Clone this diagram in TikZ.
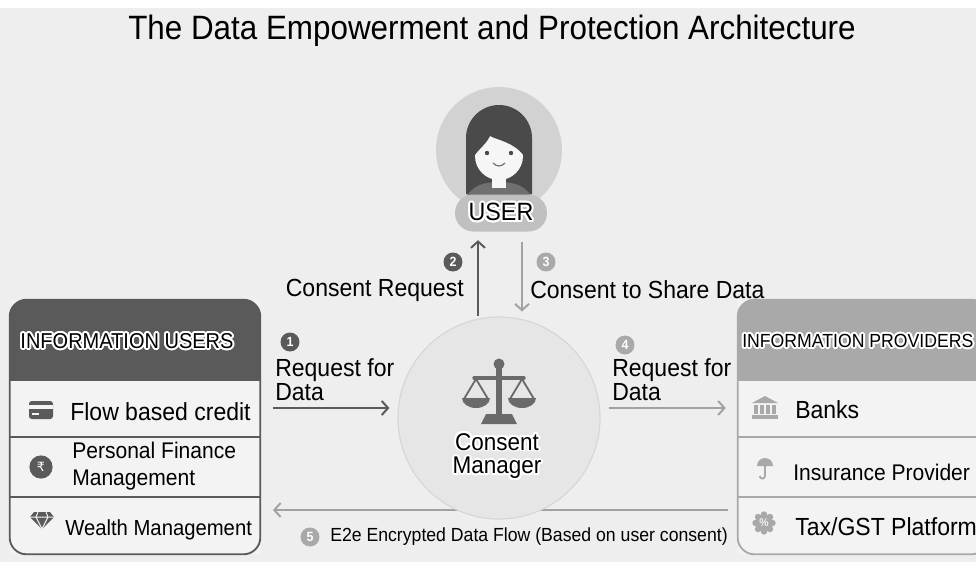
\documentclass[tikz,border=0pt]{standalone}
\usepackage{fontspec}
\setmainfont{Liberation Sans}[FakeStretch=0.93]
\newfontfamily\rupeefont{DejaVu Sans}
\usepackage{contour}
\contourlength{1.4pt}
\usetikzlibrary{arrows.meta}

\definecolor{paper}{HTML}{EEEEEE}
\definecolor{rowfill}{HTML}{F3F3F3}
\definecolor{darkgrey}{HTML}{5A5A5A}
\definecolor{lightgrey}{HTML}{A9A9A9}
\definecolor{arrowlight}{HTML}{A2A2A2}
\definecolor{cmfill}{HTML}{E6E6E6}
\definecolor{cmline}{HTML}{D6D6D6}
\definecolor{usercircle}{HTML}{D2D2D2}
\definecolor{pillgrey}{HTML}{C0C0C0}
\definecolor{hair}{HTML}{4A4A4A}
\definecolor{shirt}{HTML}{707070}
\definecolor{skin}{HTML}{F6F6F6}
\definecolor{scalegrey}{HTML}{6A6A6A}

\begin{document}
\begin{tikzpicture}[x=0.025cm, y=-0.025cm,
	txt/.style={inner sep=0pt, align=left, font=\fontsize{17.6}{17.1}\selectfont},
	txtmid/.style={txt, font=\fontsize{16.1}{19.2}\selectfont},
	head/.style={inner sep=0pt, font=\fontsize{15.3}{17}\selectfont},
	badge/.style={circle, fill=#1, text=white, inner sep=0pt, minimum size=13.5pt, font=\fontsize{9.5}{9.5}\selectfont\bfseries},
	flow/.style={draw=#1, line width=1.4pt, -{Straight Barb[length=4.5pt, width=10pt]}},
	panel/.style={rectangle, fill=rowfill, minimum width=6.25cm, minimum height=6.35cm, inner sep=0pt}]
	% backdrop
	\useasboundingbox (0,0) rectangle (976,562);
	\clip (0,0) rectangle (976,562);
	\fill[white] (0,0) rectangle (976,8);
	\fill[paper] (0,8) rectangle (976,562);

	\node[font=\fontsize{24}{28}\selectfont] (T) at (492,31) {The Data Empowerment and Protection Architecture};

	% side panels with header and three rows
	\coordinate (hb) at (0,380);
	\coordinate (r1) at (0,437);
	\coordinate (r2) at (0,497);
	\node[panel] (IU) at (135,427) {};
	\node[panel] (IP) at (863,427) {};
	\foreach \p/\c in {IU/darkgrey, IP/lightgrey} {
		\begin{scope}
			\clip[rounded corners=12pt] (\p.north west) rectangle (\p.south east);
			\fill[\c] (\p.north west) rectangle (\p.east |- hb);
		\end{scope}
		\draw[\c, line width=1pt] (\p.west |- hb) -- (\p.east |- hb)
			(\p.west |- r1) -- (\p.east |- r1)
			(\p.west |- r2) -- (\p.east |- r2);
		\draw[\c, line width=1.3pt, rounded corners=12pt] (\p.north west) rectangle (\p.south east);
	}
	\node[head] (IUh) at (127,342) {\contour{white}{INFORMATION USERS}};
	\node[head, font=\fontsize{13.5}{15}\selectfont, anchor=west] (IPh) at (742,342) {\contour{white}{INFORMATION PROVIDERS}};

	% left rows
	\fill[darkgrey, rounded corners=2pt] (29,401) rectangle (53,419);
	\fill[rowfill] (29,405) rectangle (53,408.5);
	\fill[rowfill] (32,413) rectangle (39,415);
	\node[txt, anchor=west] (FBC) at (70,412) {Flow based credit};
	\node[circle, fill=darkgrey, minimum size=16.5pt, inner sep=0pt, text=white, font=\rupeefont\fontsize{9}{9}\selectfont] (coin) at (41,467) {₹};
	\node[txtmid, anchor=west] (PFM) at (72,466) {Personal Finance\\Management};
	\fill[darkgrey] (34,512) -- (50,512) -- (54,517) -- (42,529) -- (30,517) -- cycle;
	\draw[rowfill, line width=0.7pt] (30,517) -- (54,517) (38,512) -- (36,517) -- (42,529) -- (48,517) -- (46,512);
	\node[txt, font=\fontsize{15.5}{17}\selectfont, anchor=west] (WM) at (65,530) {Wealth Management};

	% right rows
	\fill[lightgrey] (752,403) -- (765,396) -- (778,403) -- cycle;
	\foreach \cx in {756,762,768,774}
		\fill[lightgrey] (\cx-1.6,405) rectangle (\cx+1.6,414);
	\fill[lightgrey] (752,415) rectangle (778,419);
	\node[txt, anchor=west] (B) at (795,410) {Banks};
	\fill[lightgrey] (757,466) arc[start angle=180, end angle=360, radius=8] -- cycle;
	\draw[lightgrey, line width=1.3pt] (765,465) -- (765,476) arc[start angle=0, end angle=180, radius=2.6];
	\node[txtmid, anchor=west] (IPr) at (793,472) {Insurance Provider};
	\fill[lightgrey] (764,523) circle[radius=8.5];
	\foreach \a in {0,45,...,315}
		\fill[lightgrey] (764,523) ++(\a:8.5) circle[radius=3.2];
	\node[text=rowfill, font=\bfseries\fontsize{8}{8}\selectfont] (pct) at (764,523) {\%};
	\node[txt, anchor=west] (TGP) at (795,527) {Tax/GST Platform};

	% data flow back to the users, runs under the manager
	\coordinate (l1) at (0,408);
	\coordinate (l5) at (0,510);
	\draw[flow=arrowlight, shorten <=7pt, shorten >=9pt] (IP.west |- l5) -- (IU.east |- l5);
	\node[badge=lightgrey] (n5) at (310,537) {5};
	\node[txt, font=\fontsize{13.5}{15}\selectfont, anchor=west] (E2E) at (330,537) {E2e Encrypted Data Flow (Based on user consent)};

	% consent manager
	\node[circle, fill=cmfill, draw=cmline, line width=0.8pt, minimum size=143.7pt, inner sep=0pt] (CM) at (499,418) {};
	\begin{scope}[scalegrey]
		\fill (499,364) circle[radius=5.5];
		\fill (496,366) rectangle (502,416);
		\draw[line width=2.4pt, line cap=round] (474,378) -- (524,378);
		\draw[line width=1.3pt] (464,399) -- (476,379) -- (488,399);
		\draw[line width=1.3pt] (510,399) -- (522,379) -- (534,399);
		\fill (462,398) -- (490,398) arc[start angle=0, end angle=180, x radius=14, y radius=10] -- cycle;
		\fill (508,398) -- (536,398) arc[start angle=0, end angle=180, x radius=14, y radius=10] -- cycle;
		\fill (481,424) -- (486,414) -- (512,414) -- (517,424) -- cycle;
	\end{scope}
	\node[txt, align=center, font=\fontsize{17.2}{17}\selectfont] (CMt) at (497,457) {\contour{white}{Consent}\\\contour{white}{Manager}};

	% the user
	\node[circle, fill=usercircle, minimum size=89.6pt, inner sep=0pt] (U) at (499,150) {};
	\fill[hair] (466,194) -- (466,138) arc[start angle=180, end angle=360, radius=33] -- (532,194) -- cycle;
	\fill[shirt] (463,210) .. controls (465,188) and (480,182) .. (499,182) .. controls (518,182) and (533,188) .. (535,210) -- cycle;
	\fill[skin] (492,170) rectangle (506,188);
	\fill[skin] (499,156) ellipse[x radius=24, y radius=24];
	\fill[hair] (474,156) .. controls (470,118) and (528,118) .. (524,156) .. controls (514,142) and (497,140) .. (490,136) .. controls (486,144) and (480,148) .. cycle;
	\fill[hair] (487,153) circle[radius=2.2] (511,153) circle[radius=2.2];
	\draw[hair!80, line width=0.8pt] (493,163) .. controls (497,167) and (501,167) .. (505,163);
	\node[rectangle, rounded corners=13pt, fill=pillgrey, minimum width=65.4pt, minimum height=26.3pt, inner sep=0pt, font=\fontsize{17.8}{19}\selectfont] (UL) at (501,213) {\contour{white}{USER}};

	% consent loop between user and manager
	\coordinate (up) at (478,0);
	\coordinate (dn) at (522,0);
	\draw[flow=darkgrey, shorten >=6pt] (CM.north -| up) -- (UL.south -| up);
	\draw[flow=arrowlight, shorten <=7.5pt, shorten >=3.5pt] (UL.south -| dn) -- (CM.north -| dn);
	\node[badge=darkgrey] (n2) at (453,262) {2};
	\node[badge=lightgrey] (n3) at (546,262) {3};
	\node[txt, anchor=east] (CR) at (464,290) {Consent Request};
	\node[txt, anchor=west] (CS) at (530,290) {Consent to Share Data};

	% requests for data
	\draw[flow=darkgrey, shorten <=9pt, shorten >=5.7pt] (IU.east |- l1) -- (CM.west |- l1);
	\draw[flow=arrowlight, shorten <=5.7pt, shorten >=8.5pt] (CM.east |- l1) -- (IP.west |- l1);
	\node[badge=darkgrey] (n1) at (290,342) {1};
	\node[badge=lightgrey] (n4) at (625,345) {4};
	\node[txt, anchor=west] (RD1) at (275,380) {Request for\\Data};
	\node[txt, anchor=west] (RD4) at (612,380) {Request for\\Data};
\end{tikzpicture}
\end{document}
